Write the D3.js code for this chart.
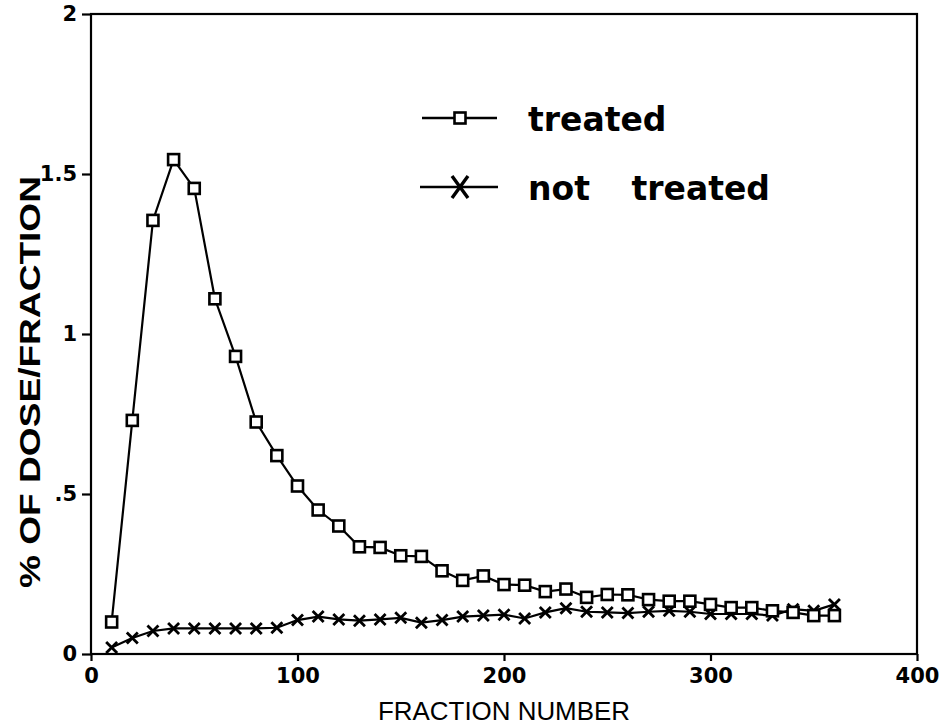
<!DOCTYPE html>
<html>
<head>
<meta charset="utf-8">
<script src="https://cdn.jsdelivr.net/npm/d3@7"></script>
<style>
  body { margin: 0; background: #fff; }
  svg { display: block; }
</style>
</head>
<body>
<svg id="chart" width="948" height="728"></svg>
<script>
// fraction numbers (x)
const fractions = [10, 20, 30, 40, 50, 60, 70, 80, 90, 100, 110, 120, 130, 140, 150, 160, 170, 180,
  190, 200, 210, 220, 230, 240, 250, 260, 270, 280, 290, 300, 310, 320, 330, 340, 350, 360];
const treated = [0.1, 0.73, 1.355, 1.545, 1.455, 1.11, 0.93, 0.725, 0.62, 0.525, 0.45, 0.40, 0.335, 0.333,
  0.307, 0.305, 0.26, 0.23, 0.244, 0.217, 0.215, 0.195, 0.203, 0.177, 0.186, 0.185, 0.17, 0.165, 0.165,
  0.155, 0.145, 0.145, 0.135, 0.13, 0.12, 0.12];
const notTreated = [0.02, 0.05, 0.072, 0.08, 0.08, 0.08, 0.08, 0.08, 0.082, 0.106, 0.117, 0.108, 0.104,
  0.108, 0.113, 0.098, 0.106, 0.117, 0.12, 0.123, 0.111, 0.13, 0.143, 0.132, 0.13, 0.128, 0.132, 0.135,
  0.132, 0.125, 0.125, 0.125, 0.12, 0.14, 0.135, 0.155];
const xTicks = [0, 100, 200, 300, 400];
const yTicks = [0, 0.5, 1, 1.5, 2];
const yTickLabels = ['0', '.5', '1', '1.5', '2'];

const svg = d3.select('#chart');
const plotLeft = 91, plotRight = 917, plotTop = 14, plotBottom = 654;

const x = d3.scaleLinear().domain([0, 400]).range([plotLeft, plotRight]);
const y = d3.scaleLinear().domain([0, 2]).range([plotBottom, plotTop]);

const boldFont = '"DejaVu Sans", sans-serif';

// frame
svg.append('rect')
  .attr('x', plotLeft).attr('y', plotTop)
  .attr('width', plotRight - plotLeft).attr('height', plotBottom - plotTop)
  .attr('fill', 'none').attr('stroke', '#000').attr('stroke-width', 2.2);

// x axis
const xAxis = svg.append('g')
  .attr('transform', `translate(0,${plotBottom})`)
  .call(d3.axisBottom(x).tickValues(xTicks).tickSize(7).tickFormat(d3.format('d')));
xAxis.select('.domain').remove();
xAxis.selectAll('line').attr('stroke', '#000').attr('stroke-width', 2.2);
xAxis.selectAll('text')
  .attr('y', 14)
  .attr('font-family', boldFont)
  .attr('font-weight', 'bold')
  .attr('font-size', 21)
  .attr('fill', '#000');

// y axis
const yAxis = svg.append('g')
  .attr('transform', `translate(${plotLeft},0)`)
  .call(d3.axisLeft(y).tickValues(yTicks).tickSize(9).tickFormat((d, i) => yTickLabels[i]));
yAxis.select('.domain').remove();
yAxis.selectAll('line').attr('stroke', '#000').attr('stroke-width', 2.2);
yAxis.selectAll('text')
  .attr('x', -14)
  .attr('font-family', boldFont)
  .attr('font-weight', 'bold')
  .attr('font-size', 21)
  .attr('fill', '#000');

// axis titles
svg.append('text')
  .attr('x', x(200)).attr('y', 720)
  .attr('text-anchor', 'middle')
  .attr('font-family', '"Liberation Sans", sans-serif')
  .attr('font-size', 26)
  .attr('textLength', 252)
  .attr('lengthAdjust', 'spacingAndGlyphs')
  .text('FRACTION NUMBER');

svg.append('text')
  .attr('transform', 'translate(40,382) rotate(-90)')
  .attr('text-anchor', 'middle')
  .attr('font-family', '"Liberation Sans", sans-serif')
  .attr('font-weight', 'bold')
  .attr('font-size', 29)
  .attr('textLength', 412)
  .attr('lengthAdjust', 'spacingAndGlyphs')
  .text('% OF DOSE/FRACTION');

// series
const line = d3.line().x(d => x(d[0])).y(d => y(d[1]));
const treatedPts = fractions.map((f, i) => [f, treated[i]]);
const notPts = fractions.map((f, i) => [f, notTreated[i]]);

const plot = svg.append('g');
plot.append('path').datum(treatedPts)
  .attr('d', line).attr('fill', 'none').attr('stroke', '#000').attr('stroke-width', 2.2);
plot.append('path').datum(notPts)
  .attr('d', line).attr('fill', 'none').attr('stroke', '#000').attr('stroke-width', 2.2);

const drawSquare = (g, cx, cy) => {
  g.append('rect')
    .attr('x', cx - 5.5).attr('y', cy - 5.5)
    .attr('width', 11).attr('height', 11)
    .attr('fill', '#fff').attr('stroke', '#000').attr('stroke-width', 2.6);
};
const drawCross = (g, cx, cy) => {
  g.append('path')
    .attr('d', `M${cx - 5.5},${cy - 5.5}L${cx + 5.5},${cy + 5.5}M${cx + 5.5},${cy - 5.5}L${cx - 5.5},${cy + 5.5}`)
    .attr('stroke', '#000').attr('stroke-width', 2.8).attr('fill', 'none');
};

notPts.forEach(d => drawCross(plot, x(d[0]), y(d[1])));
treatedPts.forEach(d => drawSquare(plot, x(d[0]), y(d[1])));

// legend
const legend = svg.append('g');
legend.append('line').attr('x1', 422).attr('x2', 497).attr('y1', 118).attr('y2', 118)
  .attr('stroke', '#000').attr('stroke-width', 2.4);
drawSquare(legend, 460, 118);
legend.append('line').attr('x1', 420).attr('x2', 498).attr('y1', 187).attr('y2', 187)
  .attr('stroke', '#000').attr('stroke-width', 2.4);
legend.append('path')
  .attr('d', 'M452,176L468,198M468,176L452,198')
  .attr('stroke', '#000').attr('stroke-width', 3.4).attr('fill', 'none');

legend.append('text')
  .attr('x', 528).attr('y', 131)
  .attr('font-family', boldFont).attr('font-weight', 'bold').attr('font-size', 33)
  .text('treated');
legend.append('text')
  .attr('x', 528).attr('y', 200)
  .attr('font-family', boldFont).attr('font-weight', 'bold').attr('font-size', 33)
  .text('not');
legend.append('text')
  .attr('x', 770).attr('y', 200)
  .attr('text-anchor', 'end')
  .attr('font-family', boldFont).attr('font-weight', 'bold').attr('font-size', 33)
  .text('treated');
</script>
</body>
</html>
